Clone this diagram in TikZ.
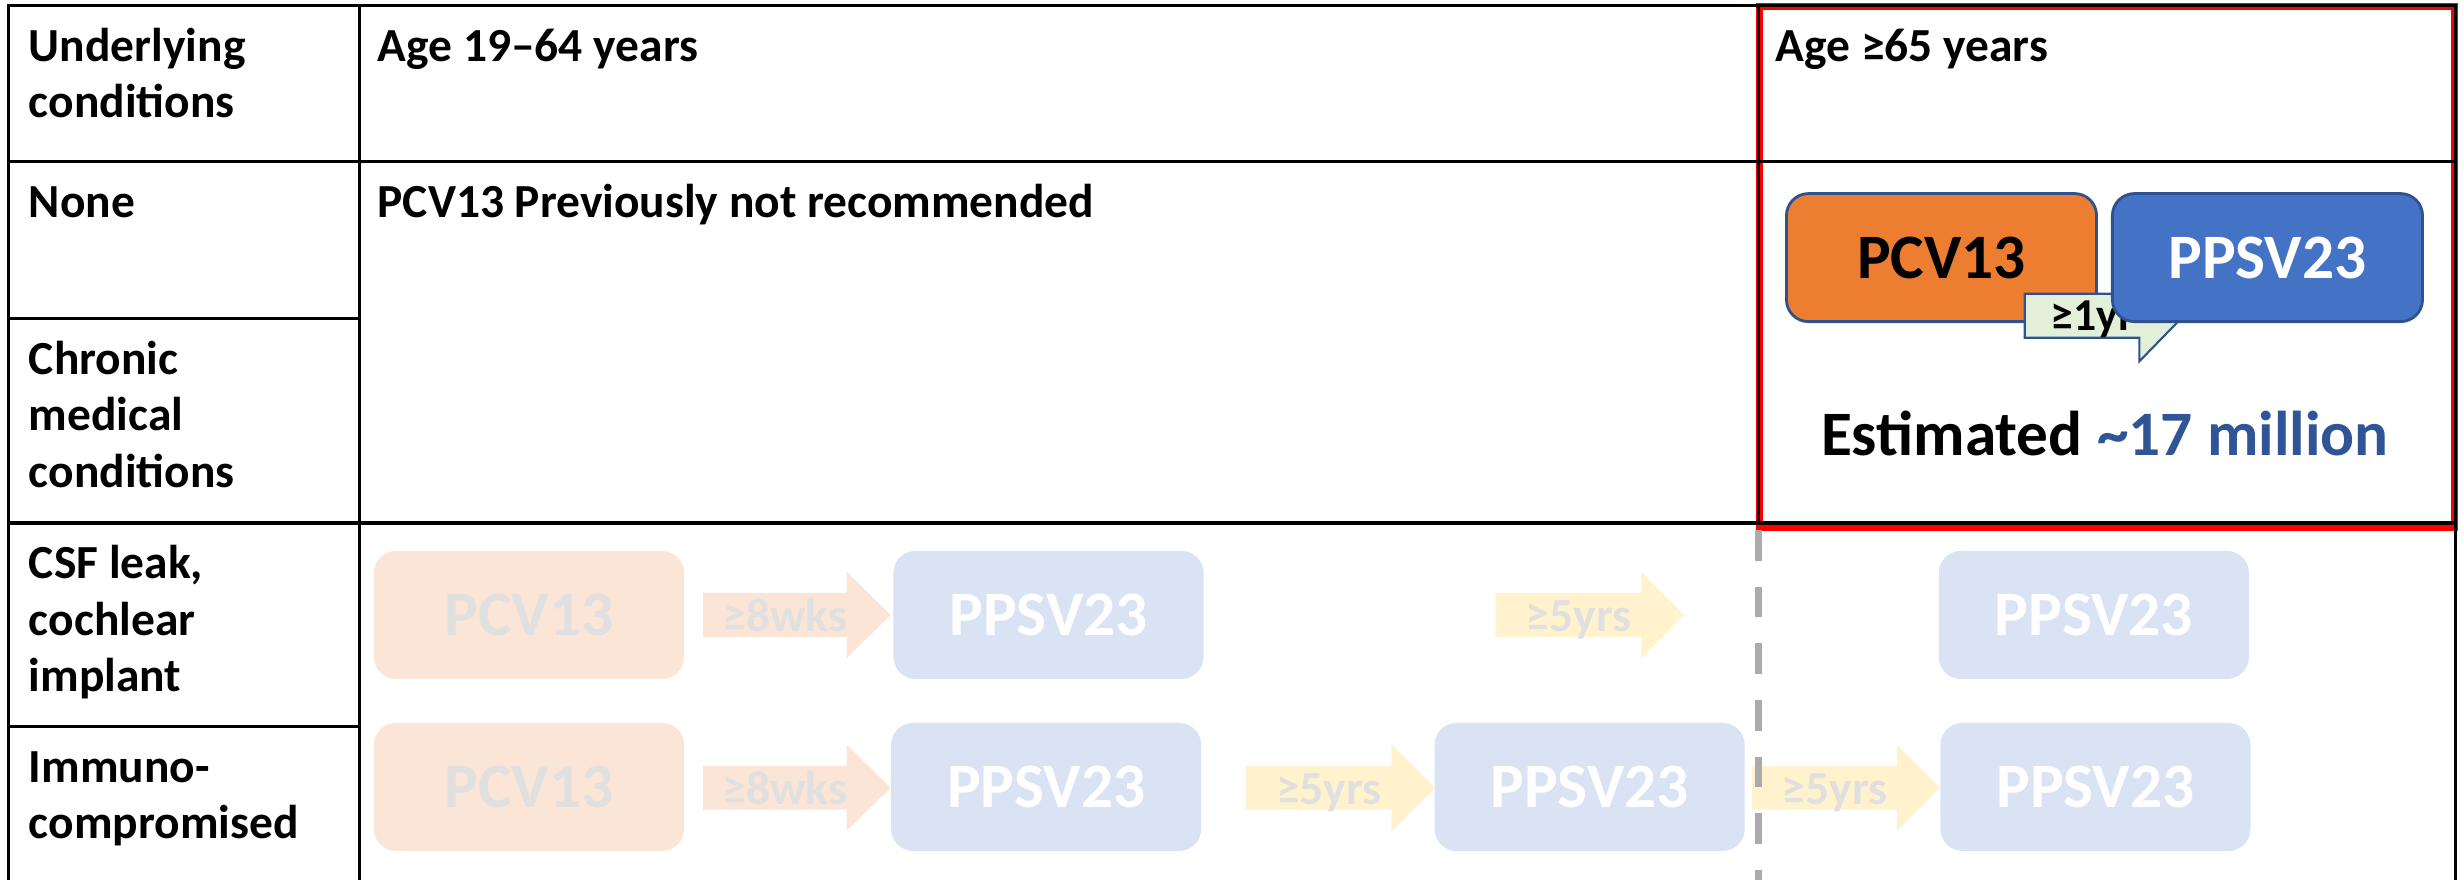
\documentclass[tikz,border=0pt]{standalone}
\usepackage{fontspec}
\setmainfont{Carlito}
\usepackage{tikz}
\definecolor{pcvorange}{HTML}{ED7D31}
\definecolor{ppsvblue}{HTML}{4472C4}
\definecolor{boxedge}{HTML}{2F528F}
\definecolor{millionblue}{HTML}{2F5597}
\definecolor{yrgreen}{HTML}{E2F0D9}
\definecolor{fadeorange}{HTML}{FBE5D6}
\definecolor{fadeblue}{HTML}{DAE3F3}
\definecolor{fadeyellow}{HTML}{FFF2CC}
\definecolor{fadetext}{HTML}{E0E0E0}
\definecolor{dashgray}{HTML}{ABABAB}
\definecolor{boxred}{HTML}{FF0000}
\newcommand{\gaparrow}[5]{\fill[#5] (#1,#4-14) -- (#2,#4-14) -- (#2,#4-27.5) -- (#3,#4) -- (#2,#4+27.5) -- (#2,#4+14) -- (#1,#4+14) -- cycle;}
\tikzset{
        cell/.style={anchor=north west, inner sep=0pt, align=left, font=\fontsize{13.5}{16}\selectfont\bfseries},
        vaccine/.style={rounded corners=0.22cm, minimum width=3.1cm, minimum height=1.28cm, inner sep=0pt, font=\fontsize{18}{21}\selectfont\bfseries},
        pcvbox/.style={vaccine, fill=pcvorange, draw=boxedge, line width=0.8pt},
        ppsvbox/.style={vaccine, fill=ppsvblue, draw=boxedge, line width=0.8pt, text=white},
        fadepcv/.style={vaccine, fill=fadeorange, text=fadetext},
        fadeppsv/.style={vaccine, fill=fadeblue, text=white},
        gaptext/.style={anchor=base, inner sep=0pt, text=fadetext, font=\fontsize{13.5}{16}\selectfont\bfseries},
        tableline/.style={line width=0.9pt, black},
}
\begin{document}
\begin{tikzpicture}[x=0.015708cm, y=-0.015708cm]
        \useasboundingbox (0,0) rectangle (1568,560.2);
        \draw[boxred, line width=2pt] (1120,4.3) rectangle (1562.5,336);
        \draw[tableline] (5.5,560.2) -- (5.5,3.5) -- (1563,3.5) -- (1563,560.2);
        \draw[tableline] (228.6,3.5) -- (228.6,560.2);
        \draw[tableline] (1119.5,3.5) -- (1119.5,333);
        \draw[tableline] (5.5,103) -- (1563,103);
        \draw[tableline] (5.5,333) -- (1563,333);
        \draw[tableline] (5.5,203) -- (228.6,203);
        \draw[tableline] (5.5,462.6) -- (228.6,462.6);

        \node[cell] (hdcond) at (18,13.5) {\strut Underlying\\conditions};
        \node[cell] (hdyoung) at (240,13.5) {\strut Age 19–64 years};
        \node[cell] (hdold) at (1130,13.5) {\strut Age ≥65 years};
        \node[cell] (cnone) at (18,113) {\strut None};
        \node[cell] (pcvnote) at (240,113) {\strut PCV13 Previously not recommended};
        \node[cell] (cchronic) at (18,213) {\strut Chronic\\medical\\conditions};
        \node[cell] (ccsf) at (18,343) {\strut CSF leak,\\cochlear\\implant};
        \node[cell] (cimmuno) at (18,472.6) {\strut Immuno-\\compromised};

        \node[pcvbox] (oldpcv) at (1236,164) {PCV13};
        \draw[fill=yrgreen, draw=boxedge, line width=0.6pt] (1289,187) -- (1289,215) -- (1362,215) -- (1362,230) -- (1400,191) -- (1400,187) -- cycle;
        \node[anchor=base west, inner sep=0pt, font=\fontsize{13}{15}\selectfont\bfseries] (oldgap) at (1305,210.7) {≥1yr};
        \node[ppsvbox] (oldppsv) at (1443.5,164) {PPSV23};
        \node[anchor=base, inner sep=0pt, font=\fontsize{18}{21}\selectfont\bfseries] (oldcount) at (1340,289.7) {Estimated \textcolor{millionblue}{\textasciitilde17 million}};

        \node[fadepcv] (csfpcv) at (336.75,391.5) {PCV13};
        \gaparrow{447.6}{539}{567}{391.5}{fadeorange}
        \node[gaptext] (csfgapa) at (499.8,402) {≥8wks};
        \node[fadeppsv] (csfppsv) at (667.5,391.5) {PPSV23};
        \gaparrow{952}{1045}{1072}{391.5}{fadeyellow}
        \node[gaptext] (csfgapb) at (1005,402) {≥5yrs};
        \node[fadeppsv] (csfppsvb) at (1333,391.5) {PPSV23};

        \node[fadepcv] (imppcv) at (336.75,501) {PCV13};
        \gaparrow{447.6}{539}{567}{501.5}{fadeorange}
        \node[gaptext] (impgapa) at (499.8,512) {≥8wks};
        \node[fadeppsv] (impppsv) at (666,501) {PPSV23};
        \gaparrow{793}{886}{913.6}{501.5}{fadeyellow}
        \node[gaptext] (impgapb) at (846,512) {≥5yrs};
        \node[fadeppsv] (impppsvb) at (1012,501) {PPSV23};
        \gaparrow{1115.5}{1207.6}{1235}{501.5}{fadeyellow}
        \node[gaptext] (impgapc) at (1168,512) {≥5yrs};
        \node[fadeppsv] (impppsvc) at (1334,501) {PPSV23};

        \draw[dashgray, line width=2.2pt, dash pattern=on 0.306cm off 0.26cm] (1119.5,337.5) -- (1119.5,560.2);
\end{tikzpicture}
\end{document}
